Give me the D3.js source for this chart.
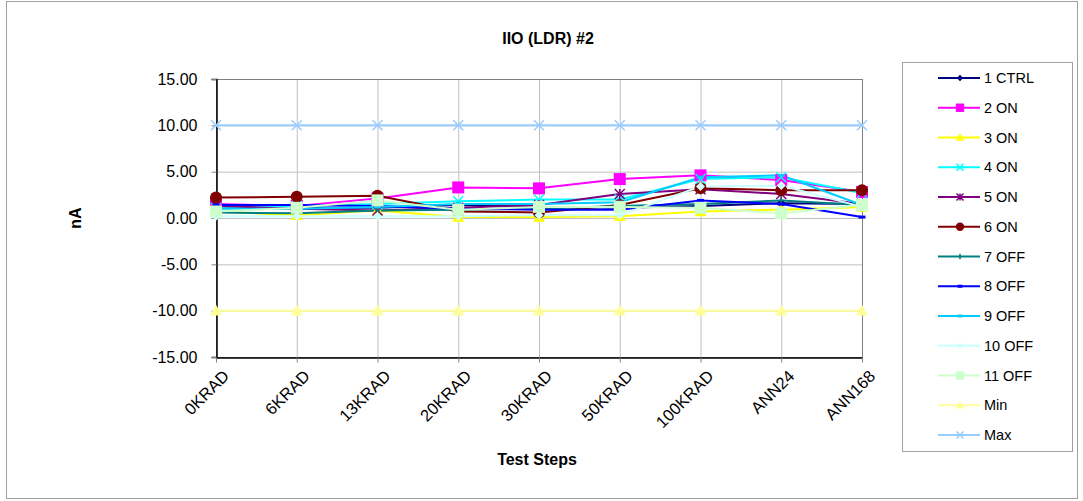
<!DOCTYPE html>
<html><head><meta charset="utf-8">
<script src="https://cdn.jsdelivr.net/npm/d3@7/dist/d3.min.js"></script>
<style>body{margin:0;background:#fff;}svg{display:block;font-family:"Liberation Sans",Arial,sans-serif;}</style>
</head><body><svg id="c" width="1083" height="501"></svg>
<script>
const categories = ["0KRAD","6KRAD","13KRAD","20KRAD","30KRAD","50KRAD","100KRAD","ANN24","ANN168"];
const yTicks = [-15,-10,-5,0,5,10,15];
const seriesNames = ["1 CTRL","2 ON","3 ON","4 ON","5 ON","6 ON","7 OFF","8 OFF","9 OFF","10 OFF","11 OFF","Min","Max"];
const seriesColors = ["#000080","#FF00FF","#FFFF00","#00FFFF","#800080","#800000","#008080","#0000FF","#00CCFF","#CCFFFF","#CCFFCC","#FFFF99","#99CCFF"];
const seriesMarkers = ["diamond","square","triangle","x","star","circle","plus","dash","dash","diamond","square","triangle","x"];
const s1 = [1.2,1.1,1.1,1.4,1.2,1.1,1.3,1.6,1.5];
const s2 = [1.5,1.3,2.1,3.3,3.2,4.2,4.6,4.1,2.8];
const s3 = [0.7,0.3,0.8,0.1,0.1,0.2,0.7,0.9,1.2];
const s4 = [1.1,1.3,1.5,1.8,2.0,2.0,4.2,4.4,2.7];
const s5 = [1.3,1.0,0.8,1.1,1.4,2.6,3.1,2.6,1.5];
const s6 = [2.2,2.3,2.4,0.7,0.6,1.4,3.2,3.0,3.0];
const s7 = [0.6,0.5,0.8,0.9,1.0,1.3,1.5,1.9,1.4];
const s8 = [1.4,1.4,1.3,1.0,0.9,0.9,1.9,1.5,0.1];
const s9 = [1.0,1.0,1.2,1.5,1.5,1.7,4.4,4.6,1.4];
const s10 = [0.2,0.2,0.2,0.2,0.3,0.3,3.4,3.5,1.2];
const s11 = [0.7,1.1,1.9,0.9,1.2,1.2,1.1,0.5,1.4];
const sMin = [-10,-10,-10,-10,-10,-10,-10,-10,-10];
const sMax = [10,10,10,10,10,10,10,10,10];
const seriesValues = [s1,s2,s3,s4,s5,s6,s7,s8,s9,s10,s11,sMin,sMax];

const FONT = "Liberation Sans, Arial, sans-serif";
const svg = d3.select("#c");
svg.append("rect").attr("x",6.5).attr("y",1.5).attr("width",1071).attr("height",497)
  .attr("fill","#fff").attr("stroke","#a0a0a0");

const L=216, R=862, T=79, B=357;
const x = d3.scalePoint().domain(categories).range([L,R]);
const y = d3.scaleLinear().domain([-15,15]).range([B,T]);

// gridlines
svg.append("g").selectAll("line").data(yTicks).join("line")
  .attr("x1",L).attr("x2",R).attr("y1",d=>y(d)+0.5).attr("y2",d=>y(d)+0.5)
  .attr("stroke","#c0c0c0").attr("stroke-width",1);
svg.append("g").selectAll("line").data(categories).join("line")
  .attr("x1",d=>x(d)+0.5).attr("x2",d=>x(d)+0.5).attr("y1",T).attr("y2",B)
  .attr("stroke","#c0c0c0").attr("stroke-width",1);
svg.append("rect").attr("x",L+0.5).attr("y",T+0.5).attr("width",R-L).attr("height",B-T)
  .attr("fill","none").attr("stroke","#808080");

// axes
const fmt = d => d.toFixed(2);
const yAxis = svg.append("g").attr("transform",`translate(${L+0.5},0)`)
  .call(d3.axisLeft(y).tickValues(yTicks).tickFormat(fmt).tickSize(5).tickPadding(14));
yAxis.select(".domain").attr("stroke","#000").attr("stroke-width",1.5);
yAxis.selectAll(".tick line").attr("stroke","#808080");
yAxis.selectAll("text").attr("font-size",16).attr("fill","#000").attr("font-family",FONT);

const xAxis = svg.append("g").attr("transform",`translate(0,${B+0.5})`)
  .call(d3.axisBottom(x).tickSize(5).tickSizeOuter(0));
xAxis.select(".domain").attr("stroke","#000").attr("stroke-width",1.5);
xAxis.selectAll(".tick line").attr("stroke","#808080");
xAxis.selectAll("text").attr("font-size",16.5).attr("fill","#000")
  .attr("font-family",FONT)
  .attr("text-anchor","end").attr("dy",0).attr("dx",0)
  .attr("transform","translate(8,14) rotate(-45)");

// markers
function marker(g, type, color, size){
  const s=size;
  if(type==="diamond") g.append("path").attr("d",`M0,${-s}L${s},0L0,${s}L${-s},0Z`).attr("fill",color);
  else if(type==="square") g.append("rect").attr("x",-s).attr("y",-s).attr("width",2*s).attr("height",2*s).attr("fill",color);
  else if(type==="triangle") g.append("path").attr("d",`M0,${-s}L${s},${s*0.8}L${-s},${s*0.8}Z`).attr("fill",color);
  else if(type==="circle") g.append("circle").attr("r",s).attr("fill",color);
  else if(type==="x") g.append("path").attr("d",`M${-s},${-s}L${s},${s}M${-s},${s}L${s},${-s}`).attr("stroke",color).attr("stroke-width",1.5);
  else if(type==="star") g.append("path").attr("d",`M${-s},${-s}L${s},${s}M${-s},${s}L${s},${-s}M0,${-s}L0,${s}`).attr("stroke",color).attr("stroke-width",1.5);
  else if(type==="plus") g.append("path").attr("d",`M0,${-s}L0,${s}M${-s*0.6},0L${s*0.6},0`).attr("stroke",color).attr("stroke-width",1.5);
  else if(type==="dash") g.append("rect").attr("x",-s).attr("y",-1.5).attr("width",2*s).attr("height",3).attr("fill",color);
}
const msize = {diamond:4.5,square:6,triangle:6,circle:6,x:5,star:5,plus:4,dash:3.5};

const line = d3.line().x((d,i)=>x(categories[i])).y(d=>y(d));
const plot = svg.append("g");
seriesValues.forEach((vals,k)=>{
  plot.append("path").attr("d",line(vals)).attr("fill","none")
    .attr("stroke",seriesColors[k]).attr("stroke-width",2);
});
seriesValues.forEach((vals,k)=>{
  vals.forEach((v,i)=>{
    const g=plot.append("g").attr("transform",`translate(${x(categories[i])},${y(v)})`);
    marker(g,seriesMarkers[k],seriesColors[k],msize[seriesMarkers[k]]);
  });
});

// title and labels
svg.append("text").attr("x",548).attr("y",44).attr("text-anchor","middle")
  .attr("font-size",16).attr("font-weight","bold").text("IIO (LDR) #2");
svg.append("text").attr("transform","translate(81,218) rotate(-90)").attr("text-anchor","middle")
  .attr("font-size",16).attr("font-weight","bold").text("nA");
svg.append("text").attr("x",537).attr("y",465).attr("text-anchor","middle")
  .attr("font-size",16).attr("font-weight","bold").text("Test Steps");

// legend
const lg = svg.append("g");
lg.append("rect").attr("x",902.5).attr("y",62.5).attr("width",170).attr("height",389)
  .attr("fill","#fff").attr("stroke","#a0a0a0");
seriesNames.forEach((n,k)=>{
  const yy = 78 + k*29.75;
  lg.append("line").attr("x1",938).attr("x2",980).attr("y1",yy).attr("y2",yy)
    .attr("stroke",seriesColors[k]).attr("stroke-width",2);
  const g=lg.append("g").attr("transform",`translate(960,${yy})`);
  marker(g,seriesMarkers[k],seriesColors[k],msize[seriesMarkers[k]]*0.7);
  lg.append("text").attr("x",984).attr("y",yy+5).attr("font-size",14.5).text(n);
});
</script></body></html>
